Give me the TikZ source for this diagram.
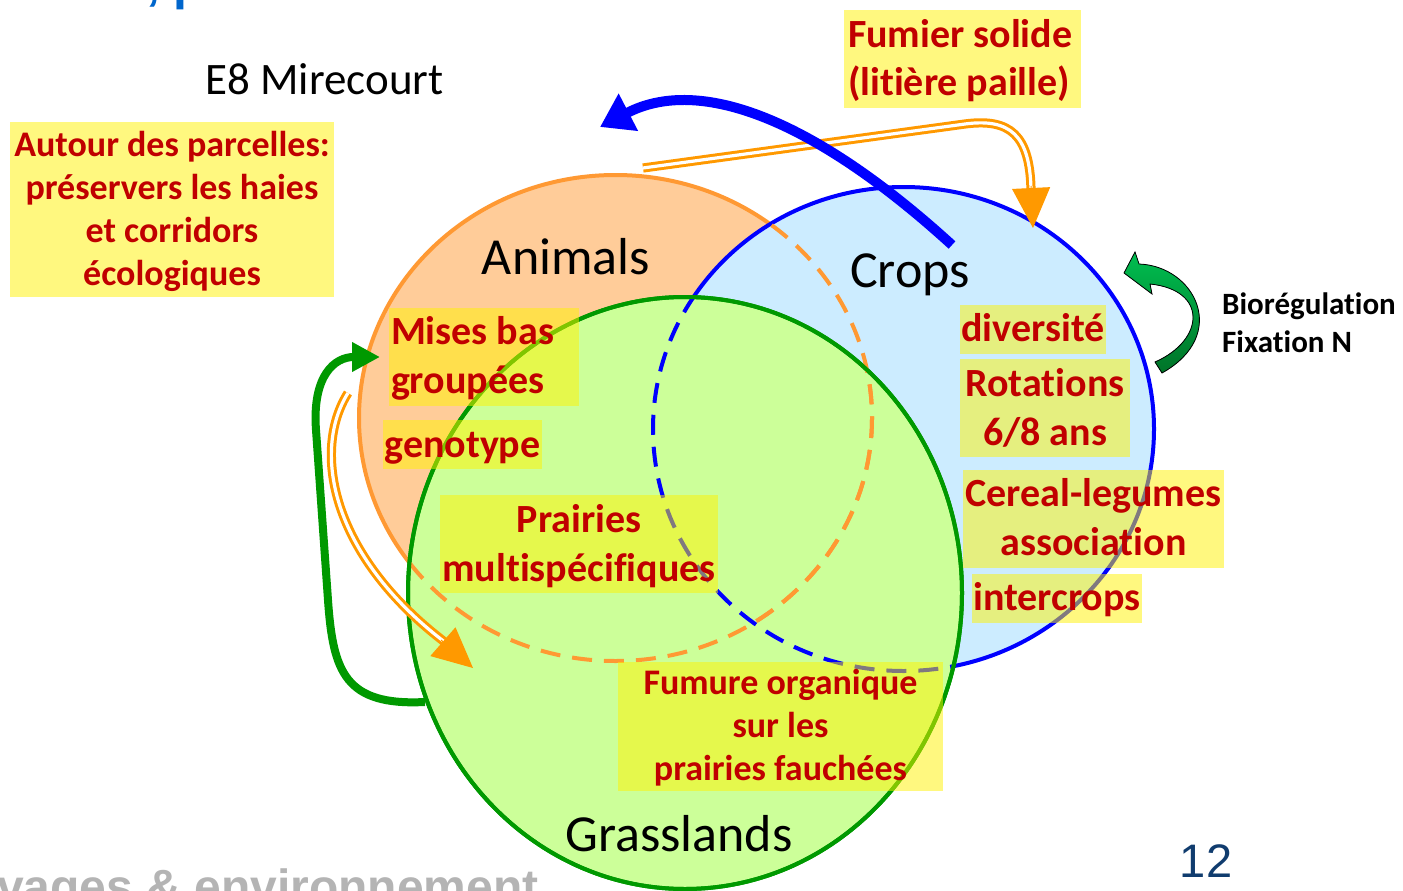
\documentclass[tikz,border=0pt]{standalone}
\usepackage{fontspec}
\setmainfont{Carlito}[Ligatures=NoCommon]
\newfontfamily\arialf{Liberation Sans}
\usetikzlibrary{arrows.meta}
\definecolor{anfill}{RGB}{255,204,153}
\definecolor{anline}{RGB}{255,153,51}
\definecolor{crfill}{RGB}{204,236,255}
\definecolor{crline}{RGB}{0,0,255}
\definecolor{grfill}{RGB}{204,255,153}
\definecolor{grline}{RGB}{0,153,0}
\definecolor{darkred}{RGB}{192,0,0}
\definecolor{arrorange}{RGB}{255,153,0}
\definecolor{pagenum}{RGB}{16,60,110}
\definecolor{footgray}{RGB}{180,180,180}
\definecolor{titleblue}{RGB}{0,102,204}
\definecolor{gtop}{RGB}{0,190,80}
\definecolor{gbot}{RGB}{0,115,40}
\newcommand\lstrut{\vrule width 0pt height 0.76\baselineskip depth 0.24\baselineskip}
\begin{document}
\begin{tikzpicture}[x=1pt,y=-1pt,
  redbox/.style={fill=yellow, fill opacity=0.5, text opacity=1, text=darkred, inner sep=0pt, align=center},
  bigred/.style={redbox, font=\bfseries\fontsize{40}{49}\selectfont},
  smallred/.style={redbox, font=\bfseries\fontsize{36}{43}\selectfont},
  circlabel/.style={font=\fontsize{52}{60}\selectfont, anchor=base, inner sep=0pt},
  dashedborder/.style={line width=4pt, dash pattern=on 20pt off 12pt},
  solidborder/.style={line width=4pt},
  dblarrow/.style={draw=arrorange, line width=3pt, double=white, double distance=3.2pt},
  orangehead/.style={arrorange, line width=1pt, -{Triangle[length=40pt,width=38pt]}}
]
\fill[white] (0,0) rectangle (1403,891);
\useasboundingbox (0,0) rectangle (1403,891);

% partial title and footer (cut by the page edge)
\node[anchor=base west, inner sep=0pt, text=titleblue, font=\arialf\bfseries\fontsize{50}{60}\selectfont] (title) at (146,0) {, p};
\node[anchor=base west, inner sep=0pt, text=footgray, font=\arialf\bfseries\fontsize{48}{56}\selectfont] (footer) at (-3,903) {vages \& environnement};

% circles
\filldraw[fill=anfill, draw=anline, solidborder] (615.5,418) ellipse [x radius=256.5, y radius=243];
\filldraw[fill=crfill, draw=crline, solidborder] (903.5,429) ellipse [x radius=250.5, y radius=242];
\filldraw[fill=grfill, draw=grline, solidborder] (685,593) ellipse [x radius=277, y radius=296];
\begin{scope}
  \clip (903.5,429) ellipse [x radius=250.5, y radius=242];
  \draw[anline, dashedborder] (615.5,418) ellipse [x radius=256.5, y radius=243];
\end{scope}
\begin{scope}
  \clip (685,593) ellipse [x radius=277, y radius=296];
  \draw[anline, dashedborder] (615.5,418) ellipse [x radius=256.5, y radius=243];
  \draw[crline, dashedborder] (903.5,429) ellipse [x radius=250.5, y radius=242];
\end{scope}
\draw[grline, solidborder] (685,593) ellipse [x radius=277, y radius=296];

% circle labels
\node[circlabel] (animals) at (566,274) {Animals};
\node[circlabel] (crops) at (910,287) {Crops};
\node[circlabel] (grass) at (679,851) {Grasslands};
\node[anchor=base, inner sep=0pt, font=\fontsize{45}{54}\selectfont] (e8) at (324.5,95) {E8 Mirecourt};

% yellow boxes
\node[smallred, minimum width=324pt, minimum height=175pt] (autour) at (172,209.5)
  {\lstrut Autour des parcelles:\\\lstrut préservers les haies\\\lstrut et corridors\\\lstrut écologiques};
\node[redbox, font=\bfseries\fontsize{40}{48}\selectfont, align=flush left, text width=229pt, inner xsep=4pt, minimum height=98pt] (fumier) at (962.5,59)
  {\lstrut Fumier solide\\\lstrut (litière paille)};
\node[bigred, align=flush left, text width=186pt, inner xsep=2pt, minimum height=97pt] (mises) at (484,356.5)
  {\lstrut Mises bas\\\lstrut groupées};
\node[bigred, minimum width=159pt, minimum height=47pt] (geno) at (462.5,444.5) {\lstrut genotype};
\node[bigred, minimum width=278pt, minimum height=98pt] (prai) at (579,544) {\lstrut Prairies\\\lstrut multispécifiques};
\node[bigred, minimum width=146pt, minimum height=48pt] (div) at (1033,329) {\lstrut diversité};
\node[bigred, minimum width=170pt, minimum height=98pt] (rot) at (1045,408) {\lstrut Rotations\\\lstrut 6/8 ans};
\node[bigred, minimum width=261pt, minimum height=97pt] (cer) at (1093.5,518.5) {\lstrut Cereal-legumes\\\lstrut association};
\node[bigred, minimum width=170pt, minimum height=48pt] (inter) at (1057,598) {\lstrut intercrops};
\node[smallred, minimum width=325pt, minimum height=129pt] (fumure) at (780.5,726.5)
  {\lstrut Fumure organique\\\lstrut sur les\\\lstrut prairies fauchées};

% side labels
\node[anchor=north west, inner sep=0pt, align=flush left, font=\bfseries\fontsize{31}{38}\selectfont] (bio) at (1222,285)
  {\lstrut Biorégulation\\\lstrut Fixation N};
\node[anchor=base, inner sep=0pt, text=pagenum, font=\arialf\fontsize{47}{56}\selectfont] (pnum) at (1206,877) {12};

% top orange double arrow (fumier)
\coordinate (ft0) at (643,168);
\coordinate (ft1) at (965,124);
\coordinate (ft2) at (1031,190);
\coordinate (fth) at (1031,186);
\coordinate (ftt) at (1033,228);
\draw[dblarrow] (ft0) -- (ft1) .. controls (1010,118) and (1030,135) .. (ft2);
\draw[orangehead] (fth) -- (ftt);

% left orange double arrow
\coordinate (fl0) at (348,393);
\coordinate (fl1) at (446,643);
\coordinate (flh) at (441,640);
\coordinate (flt) at (473,668);
\draw[dblarrow] (fl0) .. controls (312,450) and (330,555) .. (fl1);
\draw[orangehead] (flh) -- (flt);

% blue arrow
\coordinate (b0) at (952,245);
\coordinate (b1) at (600,127);
\draw[crline, line width=10pt, -{Triangle[length=32pt,width=40pt]}] (b0) .. controls (815,120) and (700,75) .. (b1);

% green loop arrow
\coordinate (g0) at (425,702);
\coordinate (g1) at (380,357);
\draw[grline, line width=8pt, -{Triangle[length=28pt,width=28pt]}] (g0) .. controls (345,706) and (333,672) .. (328,600) -- (316,430) .. controls (312,375) and (335,357) .. (g1);

% green curved block arrow
\filldraw[draw=black, line width=0.8pt, top color=gtop, bottom color=gbot]
  (1139,264) .. controls (1195,266) and (1230,335) .. (1162,373) -- (1155,362)
  .. controls (1205,340) and (1208,290) .. (1150,284) -- (1152,294) -- (1124,273) -- (1135,252) -- cycle;
\end{tikzpicture}
\end{document}
